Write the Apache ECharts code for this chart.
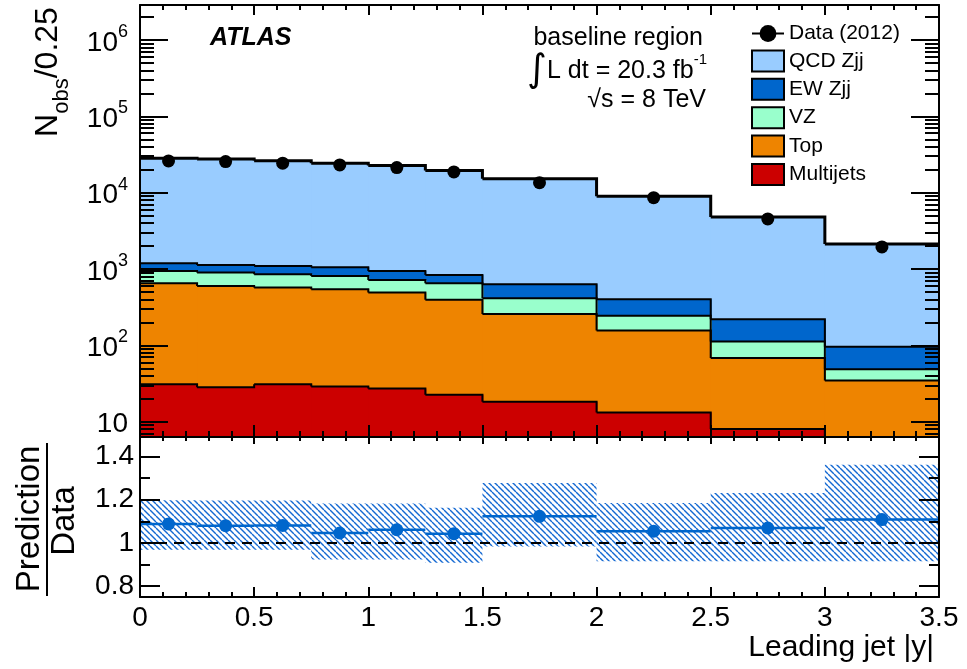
<!DOCTYPE html>
<html>
<head>
<meta charset="UTF-8">
<title>Leading jet |y| - baseline region</title>
<script src="https://cdn.jsdelivr.net/npm/echarts@6.0.0/dist/echarts.min.js"></script>
<style>
    html, body { margin: 0; padding: 0; background: #fff; }
    #chart { width: 967px; height: 669px; }
</style>
</head>
<body>
<div id="chart"></div>
<script>
// bins of leading jet |y|
const binLow    = [0, 0.25, 0.5, 0.75, 1.0, 1.25, 1.5, 2.0, 2.5, 3.0];
const binHigh   = [0.25, 0.5, 0.75, 1.0, 1.25, 1.5, 2.0, 2.5, 3.0, 3.5];
const binCenter = [0.125, 0.375, 0.625, 0.875, 1.125, 1.375, 1.75, 2.25, 2.75, 3.25];

// events per bin
const dataObs   = [26000, 25500, 24300, 23100, 21300, 18700, 13500, 8600, 4530, 1945];
const qcdZjj    = [27000, 26400, 25100, 23150, 21650, 18650, 14550, 8600, 4580, 2030];
const ewZjj     = [245, 233, 242, 243, 225, 185, 218, 157, 108, 47];
const vzBkg     = [293, 297, 284, 269, 228, 257, 156, 87, 44, 14];
const topBkg    = [620, 572, 540, 514, 464, 372, 240, 143, 60, 34.5];
const multijets = [31, 28.3, 31, 28.8, 27.2, 22.5, 18.2, 13.2, 8.0, 0];

// prediction / data with its uncertainty band
const ratio     = [1.088, 1.080, 1.081, 1.046, 1.061, 1.043, 1.123, 1.054, 1.069, 1.108];
const bandLow   = [0.969, 0.969, 0.969, 0.923, 0.923, 0.908, 0.984, 0.915, 0.915, 0.915];
const bandHigh  = [1.197, 1.196, 1.196, 1.183, 1.183, 1.163, 1.277, 1.185, 1.231, 1.362];

// ticks
const yMainTicks  = [10, 100, 1000, 10000, 100000, 1000000];
const yRatioTicks = [0.8, 1.0, 1.2, 1.4];
const yRatioMinor = [0.9, 1.1, 1.3];

const Y_MIN = 6.3, Y_MAX = 2.87e6;
const R_MIN = 0.75, R_MAX = 1.49;
const FONT = "'Liberation Sans', Arial, Helvetica, sans-serif";

// minor log ticks 2..9 per decade
const yMainMinor = [];
for (let e = 0; e <= 6; e++) {
    for (let m = 2; m <= 9; m++) {
        const v = m * Math.pow(10, e);
        if (v > Y_MIN && v < Y_MAX) yMainMinor.push(v);
    }
}

// stack, bottom first
const stackDef = [
    { name: 'Multijets', color: '#cc0000', values: multijets, width: 2 },
    { name: 'Top',       color: '#ee8400', values: topBkg, width: 2 },
    { name: 'VZ',        color: '#99ffcc', values: vzBkg, width: 2 },
    { name: 'EW Zjj',    color: '#0066cc', values: ewZjj, width: 2 },
    { name: 'QCD Zjj',   color: '#99ccff', values: qcdZjj, width: 3 }
];
const running = binLow.map(() => 0);
stackDef.forEach(layer => {
    const lo = running.slice();
    layer.values.forEach((v, i) => { running[i] += v; });
    const hi = running.slice();
    layer.items = binLow.map((x, i) => [
        x, binHigh[i],
        Math.max(lo[i], Y_MIN),
        Math.max(hi[i], Y_MIN),
        Math.max(i < hi.length - 1 ? hi[i + 1] : hi[i], Y_MIN)
    ]);
});

// hatch pattern for the uncertainty band
const hatch = document.createElement('canvas');
hatch.width = 6; hatch.height = 6;
const hc = hatch.getContext('2d');
hc.strokeStyle = '#1469d2';
hc.lineWidth = 1.4;
[-6, 0, 6].forEach(off => {
    hc.beginPath(); hc.moveTo(off, 0); hc.lineTo(off + 6, 6); hc.stroke();
});

function layerRenderer(lineWidth) {
    return function (params, api) {
        const x0 = api.value(0), x1 = api.value(1);
        const pTop = api.coord([x0, api.value(3)]);
        const pBot = api.coord([x1, api.value(2)]);
        const pNext = api.coord([x1, api.value(4)]);
        return {
            type: 'group',
            children: [{
                type: 'rect',
                shape: { x: pTop[0], y: pTop[1], width: pBot[0] - pTop[0] + 1, height: pBot[1] - pTop[1] },
                style: { fill: api.visual('color') }
            }, {
                type: 'polyline', z2: 5,
                shape: { points: [[pTop[0], pTop[1]], [pBot[0], pTop[1]], [pBot[0], pNext[1]]] },
                style: { stroke: '#000', lineWidth: lineWidth, fill: null }
            }]
        };
    };
}

function renderBand(params, api) {
    const p0 = api.coord([api.value(0), api.value(3)]);
    const p1 = api.coord([api.value(1), api.value(2)]);
    return {
        type: 'rect',
        shape: { x: p0[0], y: p0[1], width: p1[0] - p0[0], height: p1[1] - p0[1] },
        style: { fill: { image: hatch, repeat: 'repeat' } }
    };
}

function renderRatioLine(params, api) {
    const p0 = api.coord([api.value(0), api.value(2)]);
    const p1 = api.coord([api.value(1), api.value(2)]);
    return {
        type: 'line',
        shape: { x1: p0[0], y1: p0[1], x2: p1[0], y2: p1[1] },
        style: { stroke: '#0066cc', lineWidth: 2.5 }
    };
}

function powLabel(v) {
    const e = Math.round(Math.log10(v));
    if (Math.abs(Math.log10(v) - e) > 1e-6) return '';
    return e === 1 ? '{b|10}' : '{b|10}{sup|' + e + '}';
}

function black() { return { color: '#000', width: 2 }; }

function xAxisDef(grid, pos, major, minor, labels) {
    return {
        type: 'value', gridIndex: grid, position: pos, min: 0, max: 3.5, interval: 0.5, z: 10,
        axisLine: { show: true, onZero: false, lineStyle: black() },
        axisTick: { show: true, inside: true, length: major, lineStyle: black() },
        minorTick: { show: true, splitNumber: 5, length: minor, lineStyle: black() },
        axisLabel: labels ? {
            show: true, margin: 7, color: '#000', fontSize: 28, fontFamily: FONT
        } : { show: false },
        splitLine: { show: false }
    };
}

function yAxisDef(grid, pos, kind, ticks, len, line, labels) {
    const ax = {
        gridIndex: grid, position: pos, z: 10,
        axisLine: { show: line, onZero: false, lineStyle: black() },
        axisTick: { show: true, inside: true, length: len, lineStyle: black(), customValues: ticks },
        axisLabel: { show: false },
        splitLine: { show: false },
        minorTick: { show: false }
    };
    if (kind === 'log') {
        Object.assign(ax, { type: 'log', logBase: 10, min: Y_MIN, max: Y_MAX });
    } else {
        Object.assign(ax, { type: 'value', min: R_MIN, max: R_MAX });
    }
    if (labels) ax.axisLabel = labels;
    return ax;
}

const chart = echarts.init(document.getElementById('chart'));

const boxItem = name => ({ name: name, icon: 'rect', itemStyle: { borderColor: '#000', borderWidth: 2 } });

const option = {
    animation: false,
    backgroundColor: '#fff',
    textStyle: { fontFamily: FONT },
    grid: [
        { left: 140, top: 5, width: 799, height: 432, outerBoundsMode: 'none' },
        { left: 140, top: 437, width: 799, height: 160, outerBoundsMode: 'none' }
    ],
    xAxis: [
        xAxisDef(0, 'bottom', 12, 6, false),
        xAxisDef(0, 'top', 10, 5, false),
        xAxisDef(1, 'bottom', 10, 5, true),
        xAxisDef(1, 'top', 7, 4, false)
    ],
    yAxis: [
        yAxisDef(0, 'left', 'log', yMainTicks, 28, true, {
            show: true, customValues: yMainTicks, margin: 12, formatter: powLabel,
            rich: {
                b: { fontSize: 28, color: '#000', fontFamily: FONT, lineHeight: 34, verticalAlign: 'bottom' },
                sup: { fontSize: 18, color: '#000', fontFamily: FONT, lineHeight: 18, verticalAlign: 'top' }
            }
        }),
        yAxisDef(0, 'left', 'log', yMainMinor, 14, false),
        yAxisDef(0, 'right', 'log', yMainTicks, 28, true),
        yAxisDef(0, 'right', 'log', yMainMinor, 14, false),
        yAxisDef(1, 'left', 'value', yRatioTicks, 20, true, {
            show: true, customValues: yRatioTicks, margin: 6, color: '#000', fontSize: 28,
            fontFamily: FONT, formatter: v => String(+Number(v).toFixed(2))
        }),
        yAxisDef(1, 'left', 'value', yRatioMinor, 10, false),
        yAxisDef(1, 'right', 'value', yRatioTicks, 20, true),
        yAxisDef(1, 'right', 'value', yRatioMinor, 10, false)
    ],
    legend: {
        orient: 'vertical', left: 751, top: 23, padding: 0,
        itemWidth: 32, itemHeight: 21, itemGap: 5.4,
        selectedMode: false,
        textStyle: { fontSize: 21, color: '#000', fontFamily: FONT },
        data: [
            { name: 'Data (2012)', lineStyle: { width: 2, color: '#000' }, itemStyle: { color: '#000' } },
            boxItem('QCD Zjj'), boxItem('EW Zjj'), boxItem('VZ'), boxItem('Top'), boxItem('Multijets')
        ]
    },
    series: [],
    graphic: [
        { type: 'text', x: 210, y: 38, style: {
            text: 'ATLAS', fontSize: 25, fontWeight: 'bold', fontStyle: 'italic',
            fontFamily: FONT, fill: '#000', align: 'left', verticalAlign: 'middle' } },
        { type: 'text', x: 703, y: 38, style: {
            text: 'baseline region', fontSize: 25, fontFamily: FONT, fill: '#000',
            align: 'right', verticalAlign: 'middle' } },
        { type: 'text', x: 707, y: 71, style: {
            text: '{i|∫}{t|L dt = 20.3 fb}{s|-1}', align: 'right', verticalAlign: 'middle',
            rich: {
                i: { fontSize: 38, fontFamily: 'DejaVu Sans', fill: '#000' },
                t: { fontSize: 25, fontFamily: FONT, fill: '#000' },
                s: { fontSize: 15, fontFamily: FONT, fill: '#000', verticalAlign: 'top', lineHeight: 26 }
            } } },
        { type: 'text', x: 706, y: 100, style: {
            text: '√s = 8 TeV', fontSize: 25, fontFamily: FONT, fill: '#000',
            align: 'right', verticalAlign: 'middle' } },
        { type: 'text', x: 48, y: 72, rotation: Math.PI / 2, style: {
            text: '{n|N}{sub|obs}{n|/0.25}', align: 'center', verticalAlign: 'middle',
            rich: {
                n: { fontSize: 32, fontFamily: FONT, fill: '#000', lineHeight: 50 },
                sub: { fontSize: 22, fontFamily: FONT, fill: '#000', lineHeight: 22, verticalAlign: 'bottom' }
            } } },
        { type: 'text', x: 30, y: 519, rotation: Math.PI / 2, style: {
            text: 'Prediction', fontSize: 33, fontFamily: FONT, fill: '#000',
            align: 'center', verticalAlign: 'middle' } },
        { type: 'line', shape: { x1: 47, y1: 443, x2: 47, y2: 596 },
            style: { stroke: '#000', lineWidth: 2 } },
        { type: 'text', x: 65, y: 521, rotation: Math.PI / 2, style: {
            text: 'Data', fontSize: 33, fontFamily: FONT, fill: '#000',
            align: 'center', verticalAlign: 'middle' } },
        { type: 'text', x: 934, y: 648, style: {
            text: 'Leading jet |y|', fontSize: 30, fontFamily: FONT, fill: '#000',
            align: 'right', verticalAlign: 'middle' } }
    ]
};

// stacked backgrounds, top layer first so lower outlines stay visible
stackDef.slice().reverse().forEach(layer => {
    option.series.push({
        name: layer.name, type: 'custom', xAxisIndex: 0, yAxisIndex: 0,
        clip: true, renderItem: layerRenderer(layer.width),
        itemStyle: { color: layer.color },
        encode: { x: [0, 1], y: [2, 3] },
        data: layer.items
    });
});

option.series.push({
    name: 'Data (2012)', type: 'line', xAxisIndex: 0, yAxisIndex: 0,
    symbol: 'circle', symbolSize: 13, showSymbol: true, z: 5,
    itemStyle: { color: '#000' }, lineStyle: { width: 0 },
    data: binCenter.map((x, i) => [x, dataObs[i]])
});

option.series.push({
    name: 'band', type: 'custom', xAxisIndex: 2, yAxisIndex: 4, clip: true,
    renderItem: renderBand, encode: { x: [0, 1], y: [2, 3] },
    data: binLow.map((x, i) => [x, binHigh[i], bandLow[i], bandHigh[i]])
}, {
    name: 'unity', type: 'line', xAxisIndex: 2, yAxisIndex: 4, symbol: 'none',
    lineStyle: { color: '#000', width: 2, type: [10, 7] },
    data: [[0, 1], [3.5, 1]]
}, {
    name: 'ratioLine', type: 'custom', xAxisIndex: 2, yAxisIndex: 4,
    renderItem: renderRatioLine, encode: { x: [0, 1], y: 2 },
    data: binLow.map((x, i) => [x, binHigh[i], ratio[i]])
}, {
    name: 'ratio', type: 'scatter', xAxisIndex: 2, yAxisIndex: 4,
    symbolSize: 13, itemStyle: { color: '#0066cc', opacity: 1 }, z: 5,
    data: binCenter.map((x, i) => [x, ratio[i]])
});

chart.setOption(option);
</script>
</body>
</html>
